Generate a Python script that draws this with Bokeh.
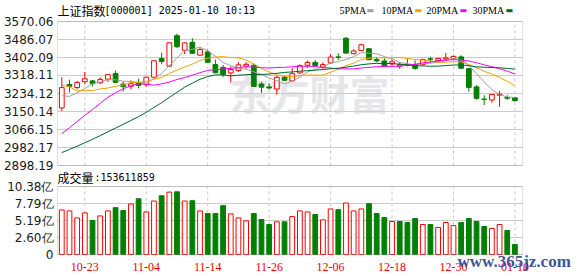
from bokeh.plotting import figure
from bokeh.models import Range1d, FixedTicker, Label, ColumnDataSource, BoxAnnotation
from bokeh.embed import file_html
from bokeh.resources import INLINE

# ---------------- data ----------------
dates = ["10-18", "10-21", "10-22", "10-23", "10-24", "10-25", "10-28", "10-29", "10-30", "10-31",
         "11-01", "11-04", "11-05", "11-06", "11-07", "11-08", "11-11", "11-12", "11-13", "11-14",
         "11-15", "11-18", "11-19", "11-20", "11-21", "11-22", "11-25", "11-26", "11-27", "11-28",
         "11-29", "12-02", "12-03", "12-04", "12-05", "12-06", "12-09", "12-10", "12-11", "12-12",
         "12-13", "12-16", "12-17", "12-18", "12-19", "12-20", "12-23", "12-24", "12-25", "12-26",
         "12-27", "12-30", "12-31", "01-02", "01-03", "01-06", "01-07", "01-08", "01-09", "01-10"]

opens = [3167, 3276, 3262, 3289, 3293, 3284, 3301, 3327, 3278, 3268,
         3283, 3275, 3310, 3397, 3362, 3504, 3436, 3473, 3413, 3428,
         3369, 3356, 3330, 3341, 3362, 3366, 3278, 3265, 3255, 3310,
         3293, 3330, 3366, 3379, 3357, 3377, 3405, 3492, 3420, 3435,
         3443, 3393, 3386, 3372, 3363, 3365, 3370, 3370, 3396, 3388,
         3395, 3397, 3405, 3350, 3265, 3208, 3204, 3226, 3215, 3214]
highs = [3310, 3299, 3293, 3335, 3298, 3310, 3323, 3341, 3290, 3295,
         3303, 3313, 3390, 3424, 3472, 3514, 3472, 3492, 3449, 3439,
         3392, 3367, 3360, 3380, 3380, 3373, 3288, 3283, 3316, 3318,
         3353, 3370, 3388, 3390, 3380, 3418, 3422, 3497, 3441, 3467,
         3446, 3405, 3399, 3395, 3380, 3395, 3389, 3396, 3406, 3400,
         3423, 3411, 3412, 3352, 3273, 3226, 3230, 3246, 3226, 3217]
lows = [3152, 3239, 3253, 3278, 3267, 3278, 3288, 3284, 3243, 3253,
        3258, 3266, 3306, 3371, 3358, 3447, 3418, 3418, 3410, 3377,
        3329, 3310, 3285, 3335, 3349, 3265, 3237, 3252, 3229, 3292,
        3291, 3326, 3354, 3361, 3350, 3373, 3390, 3420, 3417, 3432,
        3390, 3380, 3357, 3364, 3349, 3360, 3345, 3365, 3378, 3382,
        3389, 3389, 3350, 3242, 3205, 3180, 3192, 3172, 3205, 3195]
closes = [3261.56, 3268.11, 3285.87, 3302.80, 3280.26, 3299.70, 3322.20, 3286.41, 3266.24, 3279.82,
          3272.01, 3310.21, 3386.99, 3383.81, 3470.66, 3452.30, 3470.07, 3421.97, 3439.28, 3379.84,
          3330.73, 3323.85, 3346.01, 3367.99, 3370.40, 3267.19, 3263.76, 3259.76, 3309.78, 3295.70,
          3326.46, 3363.98, 3378.81, 3364.65, 3368.86, 3404.08, 3402.53, 3422.66, 3432.49, 3461.50,
          3391.88, 3386.33, 3361.49, 3382.21, 3370.03, 3368.07, 3351.26, 3393.53, 3393.35, 3398.08,
          3400.14, 3407.33, 3351.76, 3262.56, 3211.43, 3206.92, 3229.64, 3230.17, 3211.39, 3201.00]

# volume, in 亿
volumes = [6.80, 6.65, 5.59, 6.35, 5.19, 5.89, 6.65, 7.15, 6.70, 7.71,
           8.51, 6.50, 8.16, 8.97, 9.52, 9.57, 8.16, 8.21, 6.65, 6.25,
           6.25, 7.46, 6.20, 5.59, 5.14, 6.25, 5.34, 4.58, 4.99, 4.99,
           5.79, 6.65, 6.50, 6.10, 5.29, 6.95, 6.85, 7.86, 6.65, 6.95,
           7.76, 6.25, 5.64, 5.04, 5.04, 4.89, 5.49, 4.58, 4.58, 4.13,
           4.89, 4.43, 4.89, 5.49, 5.04, 4.28, 3.98, 4.58, 3.68, 1.54]
# 1 = red (up on the day), 0 = green
vol_up = [1, 1, 1, 1, 0, 1, 1, 0, 0, 1,
          0, 1, 1, 0, 1, 0, 1, 0, 1, 0,
          0, 0, 1, 1, 1, 0, 0, 0, 1, 0,
          1, 1, 1, 0, 1, 1, 0, 1, 1, 1,
          0, 0, 0, 1, 0, 0, 0, 1, 0, 1,
          1, 1, 0, 0, 0, 0, 1, 1, 0, 0]

ma5 = [3223.9, 3220.7, 3237.6, 3257.5, 3279.7, 3287.4, 3298.2, 3298.3, 3291.0, 3290.9,
       3285.3, 3282.9, 3303.1, 3326.6, 3364.7, 3400.8, 3432.8, 3439.8, 3450.9, 3432.7,
       3408.4, 3379.1, 3363.9, 3349.7, 3347.8, 3335.1, 3323.1, 3305.8, 3294.2, 3279.2,
       3291.1, 3311.1, 3335.0, 3345.9, 3360.6, 3376.1, 3383.8, 3392.6, 3406.1, 3424.7,
       3422.2, 3419.0, 3406.7, 3396.7, 3378.4, 3373.6, 3366.6, 3373.0, 3375.3, 3380.9,
       3387.3, 3398.5, 3390.1, 3364.0, 3326.6, 3288.0, 3252.5, 3228.1, 3217.9, 3215.8]
ma10 = [3272.4, 3265.6, 3245.2, 3249.6, 3247.4, 3255.6, 3259.4, 3267.9, 3274.3, 3285.3,
        3286.3, 3290.6, 3300.7, 3308.8, 3327.8, 3343.1, 3357.9, 3371.4, 3388.7, 3398.7,
        3404.6, 3406.0, 3401.9, 3400.3, 3390.2, 3371.7, 3351.1, 3334.9, 3321.9, 3313.5,
        3313.1, 3317.1, 3320.4, 3320.1, 3319.9, 3333.6, 3347.5, 3363.8, 3376.0, 3392.6,
        3399.1, 3401.4, 3399.7, 3401.4, 3401.5, 3397.9, 3392.8, 3389.9, 3386.0, 3379.6,
        3380.5, 3382.6, 3381.6, 3369.6, 3353.8, 3337.6, 3325.5, 3309.1, 3290.9, 3271.2]
ma20 = [3046.6, 3074.2, 3103.3, 3132.5, 3159.8, 3187.9, 3216.6, 3237.7, 3256.2, 3270.2,
        3279.4, 3278.1, 3272.9, 3279.2, 3287.6, 3299.3, 3308.6, 3319.7, 3331.5, 3342.0,
        3345.5, 3348.3, 3351.3, 3354.5, 3359.0, 3357.4, 3354.5, 3353.1, 3355.3, 3356.1,
        3358.8, 3361.5, 3361.1, 3360.2, 3355.1, 3352.7, 3349.3, 3349.3, 3349.0, 3353.1,
        3356.1, 3359.2, 3360.0, 3360.7, 3360.7, 3365.8, 3370.1, 3376.8, 3381.0, 3386.1,
        3389.8, 3392.0, 3390.6, 3385.5, 3377.6, 3367.8, 3359.1, 3349.5, 3338.5, 3325.4]
ma30 = [2958.4, 2973.3, 2988.1, 3004.4, 3020.4, 3037.5, 3055.3, 3072.7, 3090.3, 3108.2,
        3126.5, 3146.3, 3169.1, 3191.3, 3215.8, 3239.6, 3263.7, 3282.3, 3300.4, 3313.0,
        3321.1, 3320.7, 3315.9, 3319.5, 3321.8, 3323.5, 3322.8, 3324.7, 3328.3, 3332.5,
        3334.7, 3337.9, 3341.0, 3343.0, 3346.0, 3349.5, 3352.1, 3356.7, 3362.2, 3368.3,
        3372.3, 3374.8, 3374.0, 3373.9, 3370.6, 3367.8, 3363.8, 3362.8, 3361.3, 3361.9,
        3364.2, 3367.0, 3367.2, 3363.7, 3358.4, 3356.4, 3355.2, 3354.3, 3351.0, 3347.8]

price_ticks = [2898.19, 2982.17, 3066.15, 3150.14, 3234.12, 3318.11, 3402.09, 3486.07, 3570.06]
price_tick_labels = ["2898.19", "2982.17", "3066.15", "3150.14", "3234.12",
                     "3318.11", "3402.09", "3486.07", "3570.06"]
vol_ticks = [0, 2.595, 5.19, 7.785, 10.38]
vol_tick_labels = ["0", "2.60亿", "5.19亿", "7.79亿", "10.38亿"]
date_ticks = [3, 11, 19, 27, 35, 43, 51, 59]

title_name = "上证指数"
title_rest = "[000001] 2025-01-10 10:13"
vol_title = "成交量"
vol_value = ":153611859"
ma_names = ["5PMA", "10PMA", "20PMA", "30PMA"]

# ---------------- styles / geometry ----------------
RED = "#ff0000"
GREEN = "#008000"
MA_COLORS = ["#a0a0a0", "#f5a300", "#ff00ff", "#00662e"]
GRID = "#cccccc"
DASH = "#c8c8c8"
FRAME = "#999999"
LABEL = "#1a1a1a"

W, H = 578, 276
LEFT = 54                     # left border that holds the axis labels
PANEL_L, PANEL_R = 56, 522    # panel boxes, page pixels
X_LO, X_HI = -0.56, 60.0      # panel boxes, candle units
PX = (PANEL_R - PANEL_L) / (X_HI - X_LO)
XR = Range1d(X_LO - (PANEL_L - LEFT) / PX, X_HI + (W - PANEL_R) / PX)

P_TOP, P_BOT = 21, 165        # price panel rows
V_TOP, V_BOT = 186, 254       # volume panel rows
pk = (price_ticks[-1] - price_ticks[0]) / (P_BOT - P_TOP)
YR = Range1d(price_ticks[0] - (H - P_BOT) * pk, price_ticks[-1] + P_TOP * pk)
vk = (vol_ticks[-1] - vol_ticks[0]) / (V_BOT - V_TOP)
VR = Range1d(vol_ticks[0] - (H - V_BOT) * vk, vol_ticks[-1] + V_TOP * vk)


def vol_to_main(v):
    return YR.start + (v - VR.start) * (YR.end - YR.start) / (VR.end - VR.start)


vol_ticks_main = [vol_to_main(v) for v in vol_ticks]
DATE_Y = vol_ticks[0] - 12 * vk

idx = list(range(len(dates)))
up = [c >= o for o, c in zip(opens, closes)]
cs = ColumnDataSource(dict(
    x=idx,
    top=[max(o, c) for o, c in zip(opens, closes)],
    bottom=[min(o, c) for o, c in zip(opens, closes)],
    high=highs, low=lows,
    color=[RED if u else GREEN for u in up],
    fill=["white" if u else GREEN for u in up],
))
vs = ColumnDataSource(dict(
    x=idx, vol=volumes,
    color=[RED if u else GREEN for u in vol_up],
    fill=["white" if u else GREEN for u in vol_up],
))

p = figure(width=W, height=H, x_range=XR, y_range=YR,
           output_backend="svg", toolbar_location=None, tools="",
           x_axis_location=None,
           min_border_left=LEFT, min_border_right=0, min_border_top=0, min_border_bottom=0)
p.extra_y_ranges = {"vol": VR}
p.outline_line_color = None
p.background_fill_color = "white"
p.border_fill_color = "white"
p.grid.visible = False

ax = p.yaxis[0]
all_ticks = price_ticks + vol_ticks_main
ax.ticker = FixedTicker(ticks=all_ticks)
ax.major_label_overrides = {t: s for t, s in zip(all_ticks, price_tick_labels + vol_tick_labels)}
ax.axis_line_color = None
ax.major_tick_line_color = None
ax.minor_tick_line_color = None
ax.major_tick_out = 0
ax.major_tick_in = 0
ax.major_label_standoff = 2
ax.major_label_text_font = "DejaVu Sans"
ax.major_label_text_font_size = "12px"
ax.major_label_text_color = LABEL

# watermark
p.add_layout(Label(x=254, y=H - 92, x_units="screen", y_units="screen", text="东方财富",
                   text_font="Noto Sans CJK SC", text_font_style="bold",
                   text_font_size="40px", text_color="#e6e6ea",
                   text_align="center", text_baseline="middle", level="underlay"))

# panel grids, dashed date lines and boxes
p.segment(x0=X_LO, x1=X_HI, y0=price_ticks, y1=price_ticks, line_color=GRID, line_width=1)
p.segment(x0=date_ticks, x1=date_ticks, y0=price_ticks[0], y1=price_ticks[-1],
          line_color=DASH, line_width=1, line_dash="3 3")
p.segment(x0=X_LO, x1=X_HI, y0=vol_ticks, y1=vol_ticks, line_color=GRID, line_width=1,
          y_range_name="vol")
p.segment(x0=date_ticks, x1=date_ticks, y0=vol_ticks[0], y1=vol_ticks[-1],
          line_color=DASH, line_width=1, line_dash="3 3", y_range_name="vol")
p.add_layout(BoxAnnotation(left=X_LO, right=X_HI, bottom=price_ticks[0], top=price_ticks[-1],
                           fill_alpha=0, line_color=FRAME, line_width=1))
p.add_layout(BoxAnnotation(left=X_LO, right=X_HI, bottom=vol_ticks_main[0], top=vol_ticks_main[-1],
                           fill_alpha=0, line_color=FRAME, line_width=1))

# candles
p.segment(x0="x", y0="low", x1="x", y1="high", source=cs, line_color="color", line_width=1)
p.vbar(x="x", top="top", bottom="bottom", width=0.62, source=cs,
       fill_color="fill", line_color="color", line_width=1)

# moving averages
for ma, col in zip([ma5, ma10, ma20, ma30], MA_COLORS):
    p.line(idx, ma, line_color=col, line_width=1)

# volume bars
p.vbar(x="x", top="vol", bottom=0, width=0.62, source=vs,
       fill_color="fill", line_color="color", line_width=1, y_range_name="vol")

# date labels
p.text(x=date_ticks, y=DATE_Y, text=[dates[t] for t in date_ticks],
       text_font="Liberation Sans", text_font_size="12px", text_color="#ee0000",
       text_align="center", text_baseline="middle", y_range_name="vol")

# header + legend
HY = H - 9.5
p.add_layout(Label(x=2, y=HY, x_units="screen", y_units="screen", text=title_name,
                   text_font="Noto Sans CJK SC", text_font_size="12px", text_color="#000000",
                   text_baseline="middle"))
p.add_layout(Label(x=49, y=HY, x_units="screen", y_units="screen", text=title_rest,
                   text_font="DejaVu Sans Mono", text_font_size="10px", text_color="#000000",
                   text_baseline="middle"))
legend_x = [284, 326, 371, 417]
for name, col, lx in zip(ma_names, MA_COLORS, legend_x):
    p.add_layout(Label(x=lx, y=HY, x_units="screen", y_units="screen", text=name,
                       text_font="Liberation Serif", text_font_size="10px", text_color="#000000",
                       text_baseline="middle"))
    p.add_layout(Label(x=lx + 6 * len(name) + 3, y=HY, x_units="screen", y_units="screen",
                       text="▬", text_font="DejaVu Sans", text_font_size="8px",
                       text_color=col, text_baseline="middle"))

# volume caption
VY = H - 177
p.add_layout(Label(x=2, y=VY, x_units="screen", y_units="screen", text=vol_title,
                   text_font="Noto Sans CJK SC", text_font_size="12px", text_color="#000000",
                   text_baseline="middle"))
p.add_layout(Label(x=39, y=VY, x_units="screen", y_units="screen", text=vol_value,
                   text_font="DejaVu Sans Mono", text_font_size="10px", text_color="#000000",
                   text_baseline="middle"))

# site watermark
p.add_layout(Label(x=402, y=H - 261, x_units="screen", y_units="screen", text="www.365jz.com",
                   text_font="Liberation Serif", text_font_style="bold", text_font_size="17px",
                   text_color="#22428a", text_alpha=0.9, text_baseline="middle"))

open("out.html", "w").write(file_html(p, INLINE))
